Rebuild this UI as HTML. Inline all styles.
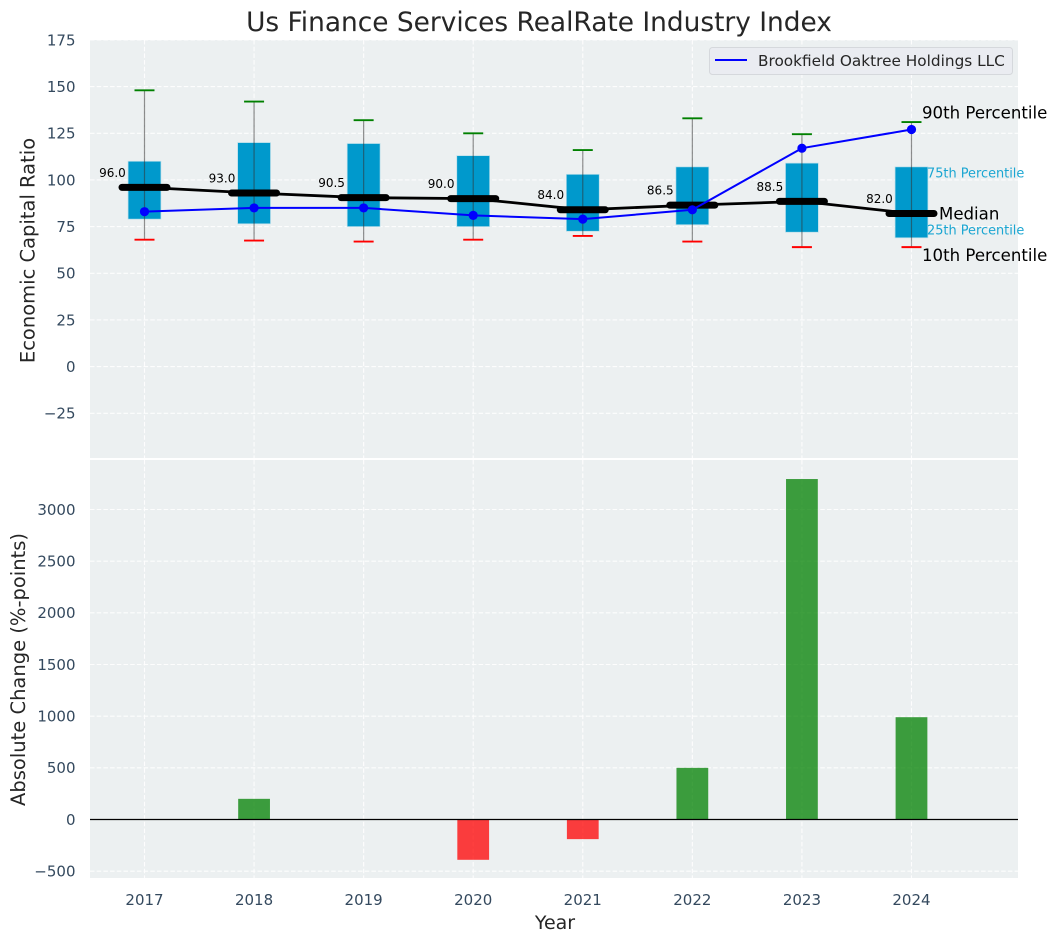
<!DOCTYPE html>
<html lang="en">
<head>
<meta charset="utf-8">
<title>Us Finance Services RealRate Industry Index</title>
<style>
html,body{margin:0;padding:0;background:#fff;}
svg{display:block;font-family:"DejaVu Sans","Liberation Sans",sans-serif;}
</style>
</head>
<body>
<svg id="chart" xmlns="http://www.w3.org/2000/svg" width="1057" height="942" viewBox="0 0 1057 942"></svg>
<script>
const years = [2017, 2018, 2019, 2020, 2021, 2022, 2023, 2024];
const p90 = [148, 142, 132, 125, 116, 133, 124.5, 131];
const p75 = [110, 120, 119.5, 113, 103, 107, 109, 107];
const medians = [96, 93, 90.5, 90, 84, 86.5, 88.5, 82];
const p25 = [79, 76.5, 75, 75, 72.5, 76, 72, 69];
const p10 = [68, 67.5, 67, 68, 70, 67, 64, 64];
const company = [83, 85, 85, 81, 79, 84, 117, 127];
const changes = [0, 200, 0, -390, -190, 500, 3295, 990];
const topTicks = [175, 150, 125, 100, 75, 50, 25, 0, -25];
const bottomTicks = [3000, 2500, 2000, 1500, 1000, 500, 0, -500];

const svg = document.getElementById('chart');
const NS = 'http://www.w3.org/2000/svg';
const L = 90, R = 1018, T1 = 40, B1 = 458, T2 = 460, B2 = 878;

function xs(v){ return 144.5 + (v - 2017) * 109.57; }
function y1(v){ return 366.6 - v * 1.8667; }
function y2(v){ return 819.5 - v * 0.10333; }
function make(tag, attrs, text){
  const e = document.createElementNS(NS, tag);
  for (const k in attrs) e.setAttribute(k, attrs[k]);
  if (text !== undefined) e.textContent = text;
  svg.appendChild(e);
  return e;
}
function minus(v){ return String(v).replace('-', '\u2212'); }
let el;

el = make('rect', {x: L, y: T1, width: R - L, height: B1 - T1, fill: '#ecf0f1'});


el = make('rect', {x: L, y: T2, width: R - L, height: B2 - T2, fill: '#ecf0f1'});



const gridStyle = {stroke: '#ffffff', 'stroke-width': 1.1, 'stroke-dasharray': '4.5 2.2', opacity: 0.9};
topTicks.forEach(function(t){
  el = make('line', Object.assign({x1: L, x2: R, y1: y1(t), y2: y1(t)}, gridStyle));
  
  
  el = make('text', {x: 75.5, y: y1(t) + 5.4, 'text-anchor': 'end', 'font-size': 15, fill: '#34495e'}, minus(t));
  
  
});
bottomTicks.forEach(function(t){
  el = make('line', Object.assign({x1: L, x2: R, y1: y2(t), y2: y2(t)}, gridStyle));
  
  
  el = make('text', {x: 75.5, y: y2(t) + 5.4, 'text-anchor': 'end', 'font-size': 15, fill: '#34495e'}, minus(t));
  
  
});
years.forEach(function(yr){
  el = make('line', Object.assign({x1: xs(yr), x2: xs(yr), y1: T1, y2: B1}, gridStyle));
  
  
  el = make('line', Object.assign({x1: xs(yr), x2: xs(yr), y1: T2, y2: B2}, gridStyle));
  
  
  el = make('text', {x: xs(yr), y: 905, 'text-anchor': 'middle', 'font-size': 15, fill: '#34495e'}, yr);
  
  
});

const boxW = 0.3 * 109.57;
years.forEach(function(yr, i){
  const x = xs(yr);
  el = make('rect', {x: x - boxW / 2, y: y1(p75[i]), width: boxW, height: y1(p25[i]) - y1(p75[i]), fill: '#0099cc', stroke: '#b9deea', 'stroke-width': 0.7});
  
  
  el = make('line', {x1: x, x2: x, y1: y1(p90[i]), y2: y1(p10[i]), stroke: '#333333', 'stroke-opacity': 0.55, 'stroke-width': 1.2});
  
  
  el = make('line', {x1: x - 10, x2: x + 10, y1: y1(p90[i]), y2: y1(p90[i]), stroke: '#008000', 'stroke-width': 1.9});
  
  
  el = make('line', {x1: x - 10, x2: x + 10, y1: y1(p10[i]), y2: y1(p10[i]), stroke: '#ff0000', 'stroke-width': 1.9});
  
  
});

el = make('polyline', {points: years.map(function(yr, i){ return xs(yr) + ',' + y1(medians[i]); }).join(' '), fill: 'none', stroke: '#000000', 'stroke-width': 2.8});



years.forEach(function(yr, i){
  const x = xs(yr);
  el = make('line', {x1: x - 22.5, x2: x + 22.5, y1: y1(medians[i]), y2: y1(medians[i]), stroke: '#000000', 'stroke-width': 7, 'stroke-linecap': 'round'});
  
  
  el = make('text', {x: x - 18.7, y: y1(medians[i]) - 10.6, 'text-anchor': 'end', 'font-size': 12, fill: '#000000'}, medians[i].toFixed(1));
  
  
});

el = make('polyline', {points: years.map(function(yr, i){ return xs(yr) + ',' + y1(company[i]); }).join(' '), fill: 'none', stroke: '#0000ff', 'stroke-width': 2});


years.forEach(function(yr, i){
  el = make('circle', {cx: xs(yr), cy: y1(company[i]), r: 4.6, fill: '#0000ff'});
  
  
});

const n = years.length - 1;
el = make('text', {x: 922, y: y1(p90[n]) - 3.5, 'font-size': 16.6, fill: '#000000'}, '90th Percentile');


el = make('text', {x: 927, y: y1(p75[n]) + 10.5, 'font-size': 12.9, fill: '#1ba6d2'}, '75th Percentile');


el = make('text', {x: 939, y: y1(medians[n]) + 6, 'font-size': 16.6, fill: '#000000'}, 'Median');


el = make('text', {x: 927, y: y1(p25[n]) - 3.5, 'font-size': 12.9, fill: '#1ba6d2'}, '25th Percentile');


el = make('text', {x: 922, y: y1(p10[n]) + 14, 'font-size': 16.6, fill: '#000000'}, '10th Percentile');



el = make('rect', {x: 709.5, y: 47.5, width: 303, height: 27, rx: 3, fill: '#eaecf1', stroke: '#d5d8dc', 'stroke-width': 1});


el = make('line', {x1: 715, x2: 747, y1: 60, y2: 60, stroke: '#0000ff', 'stroke-width': 2});


el = make('text', {x: 758, y: 66, 'font-size': 15.3, fill: '#262626'}, 'Brookfield Oaktree Holdings LLC');



const barW = 0.29 * 109.57;
years.forEach(function(yr, i){
  const v = changes[i];
  if (v === 0) return;
  const top = Math.min(y2(v), y2(0));
  const h = Math.abs(y2(v) - y2(0));
  el = make('rect', {x: xs(yr) - barW / 2, y: top, width: barW, height: h, fill: v > 0 ? '#008000' : '#ff0000', 'fill-opacity': 0.75});
  
  
});
el = make('line', {x1: L, x2: R, y1: y2(0), y2: y2(0), stroke: '#000000', 'stroke-width': 1.2});



el = make('text', {x: 539, y: 31, 'text-anchor': 'middle', 'font-size': 26.4, fill: '#262626'}, 'Us Finance Services RealRate Industry Index');


el = make('text', {x: 555, y: 929, 'text-anchor': 'middle', 'font-size': 19, fill: '#262626'}, 'Year');


el = make('text', {x: 0, y: 0, transform: 'translate(34.5,250.5) rotate(-90)', 'text-anchor': 'middle', 'font-size': 19.5, fill: '#262626'}, 'Economic Capital Ratio');


el = make('text', {x: 0, y: 0, transform: 'translate(25,669.5) rotate(-90)', 'text-anchor': 'middle', 'font-size': 19.5, fill: '#262626'}, 'Absolute Change (%-points)');


</script>
</body>
</html>
